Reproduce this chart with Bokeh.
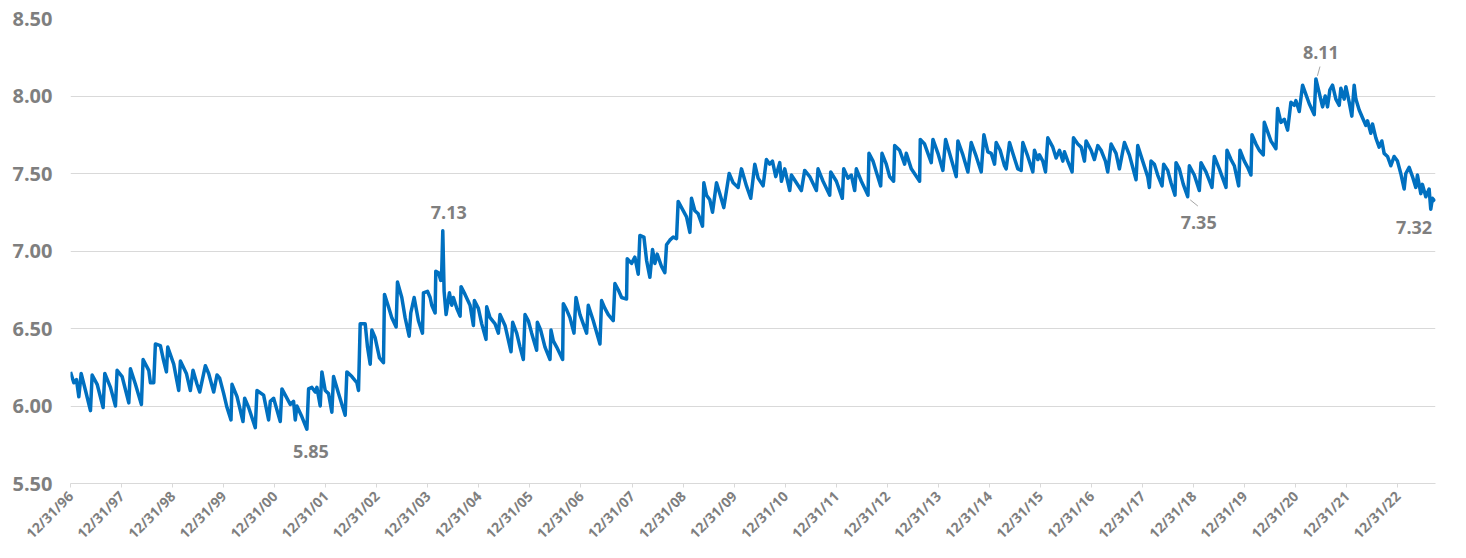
import math
from bokeh.plotting import figure
from bokeh.models import FixedTicker, NumeralTickFormatter, Range1d, Label
from bokeh.embed import file_html
from bokeh.resources import INLINE

# decimal years (1997.0 == 12/31/96)
dates = [
    1997.000, 1997.065, 1997.117, 1997.163, 1997.209, 1997.294, 1997.391, 1997.424, 1997.522, 1997.639,
    1997.672, 1997.783, 1997.881, 1997.913, 1998.011, 1998.142, 1998.174, 1998.272, 1998.389, 1998.422,
    1998.533, 1998.566, 1998.631, 1998.663, 1998.761, 1998.826, 1998.879, 1998.905, 1999.022, 1999.120,
    1999.153, 1999.270, 1999.348, 1999.400, 1999.479, 1999.531, 1999.642, 1999.707, 1999.805, 1999.870,
    1999.922, 2000.001, 2000.066, 2000.144, 2000.164, 2000.262, 2000.379, 2000.412, 2000.490, 2000.620,
    2000.653, 2000.783, 2000.881, 2000.914, 2000.979, 2001.109, 2001.142, 2001.305,
    2001.370, 2001.403, 2001.435, 2001.533, 2001.631, 2001.664, 2001.729, 2001.794, 2001.827, 2001.892,
    2001.925, 2001.990, 2002.055, 2002.120, 2002.153, 2002.251, 2002.381, 2002.414, 2002.512, 2002.610,
    2002.642, 2002.675, 2002.773, 2002.818, 2002.871, 2002.903, 2002.968, 2003.053, 2003.131, 2003.151,
    2003.229, 2003.294, 2003.379, 2003.405, 2003.490, 2003.555, 2003.634, 2003.666, 2003.732, 2003.816,
    2003.895, 2003.914, 2003.993, 2004.045, 2004.077, 2004.143, 2004.156, 2004.208, 2004.254, 2004.273,
    2004.293, 2004.319, 2004.358, 2004.423, 2004.469, 2004.501, 2004.567, 2004.632, 2004.651, 2004.729,
    2004.827, 2004.893, 2004.912, 2004.990, 2005.056, 2005.140, 2005.153, 2005.219, 2005.317, 2005.382,
    2005.414, 2005.512, 2005.630, 2005.662, 2005.741, 2005.806,
    2005.871, 2005.904, 2005.969, 2006.034, 2006.132, 2006.145, 2006.210, 2006.295, 2006.393, 2006.413,
    2006.458, 2006.524, 2006.641, 2006.654, 2006.719, 2006.784, 2006.863, 2006.902, 2006.980, 2007.045,
    2007.111, 2007.143, 2007.241, 2007.372, 2007.404, 2007.469, 2007.535, 2007.632, 2007.665, 2007.730,
    2007.796, 2007.893, 2007.906, 2007.991, 2008.056, 2008.122, 2008.154, 2008.233, 2008.285, 2008.350,
    2008.402, 2008.448, 2008.493, 2008.578, 2008.643, 2008.676, 2008.741, 2008.807, 2008.872, 2008.904,
    2009.002, 2009.068, 2009.133, 2009.165, 2009.231, 2009.296, 2009.381, 2009.407, 2009.459, 2009.524,
    2009.577, 2009.655, 2009.720, 2009.798, 2009.903, 2009.981, 2010.079, 2010.144, 2010.242, 2010.326,
    2010.405,
    2010.470, 2010.568, 2010.633, 2010.698, 2010.751, 2010.816, 2010.894, 2010.927, 2010.992, 2011.090,
    2011.122, 2011.220, 2011.318, 2011.383, 2011.481, 2011.612, 2011.644, 2011.742, 2011.873, 2011.892,
    2012.003, 2012.120, 2012.147, 2012.231, 2012.296, 2012.362, 2012.394, 2012.492, 2012.623, 2012.642,
    2012.721, 2012.786, 2012.871, 2012.897, 2012.981, 2013.047, 2013.125, 2013.145, 2013.242, 2013.340,
    2013.373, 2013.471, 2013.634, 2013.647, 2013.731, 2013.862, 2013.895, 2013.993, 2014.090, 2014.143,
    2014.221, 2014.351, 2014.384, 2014.482, 2014.580, 2014.645, 2014.743, 2014.841, 2014.893,
    2014.971, 2015.036, 2015.102, 2015.134, 2015.212, 2015.297, 2015.330, 2015.395, 2015.460, 2015.558,
    2015.623, 2015.656, 2015.754, 2015.852, 2015.884, 2015.950, 2015.982, 2016.047, 2016.100, 2016.145,
    2016.243, 2016.308, 2016.374, 2016.439, 2016.471, 2016.537, 2016.621, 2016.648, 2016.732, 2016.798,
    2016.863, 2016.895, 2016.993, 2017.058, 2017.124, 2017.189, 2017.274, 2017.319, 2017.385, 2017.482,
    2017.548, 2017.646, 2017.743, 2017.841, 2017.874, 2017.907, 2018.004, 2018.102, 2018.135, 2018.167,
    2018.233, 2018.298, 2018.383, 2018.415, 2018.494, 2018.559, 2018.637, 2018.657, 2018.722, 2018.800,
    2018.885, 2018.918, 2019.015, 2019.113, 2019.146, 2019.244, 2019.361, 2019.407,
    2019.505, 2019.636, 2019.655, 2019.734, 2019.799, 2019.884, 2019.910, 2019.995, 2020.060, 2020.125,
    2020.145, 2020.223, 2020.288, 2020.366, 2020.386, 2020.451, 2020.516, 2020.614, 2020.647, 2020.712,
    2020.777, 2020.843, 2020.908, 2020.973, 2021.006, 2021.071, 2021.136, 2021.201, 2021.267, 2021.364,
    2021.397, 2021.462, 2021.528, 2021.580, 2021.625, 2021.671, 2021.723, 2021.788, 2021.854, 2021.886,
    2021.951, 2021.984, 2022.049, 2022.101, 2022.147, 2022.180, 2022.245, 2022.310, 2022.376, 2022.408,
    2022.473, 2022.506, 2022.571, 2022.636, 2022.689, 2022.734, 2022.800, 2022.865, 2022.930, 2022.995,
    2023.060, 2023.126, 2023.158, 2023.224, 2023.289, 2023.354, 2023.386, 2023.452, 2023.484, 2023.550,
    2023.615, 2023.647, 2023.680, 2023.732,
]

values = [
    6.22, 6.15, 6.17, 6.06, 6.21, 6.10, 5.97, 6.20, 6.14, 5.99,
    6.21, 6.12, 6.00, 6.23, 6.19, 6.02, 6.24, 6.14, 6.01, 6.30,
    6.23, 6.15, 6.15, 6.40, 6.39, 6.29, 6.22, 6.38, 6.27, 6.10,
    6.29, 6.21, 6.10, 6.23, 6.14, 6.09, 6.26, 6.21, 6.09, 6.20,
    6.18, 6.08, 5.99, 5.91, 6.14, 6.06, 5.90, 6.05, 5.99, 5.86,
    6.10, 6.07, 5.91, 6.03, 6.05, 5.90, 6.11, 6.01,
    6.03, 5.91, 6.00, 5.93, 5.85, 6.11, 6.12, 6.09, 6.12, 6.00,
    6.22, 6.10, 6.08, 5.96, 6.19, 6.08, 5.94, 6.22, 6.19, 6.15,
    6.10, 6.53, 6.53, 6.38, 6.27, 6.49, 6.44, 6.31, 6.28, 6.72,
    6.64, 6.57, 6.51, 6.80, 6.70, 6.57, 6.45, 6.60, 6.70, 6.55,
    6.47, 6.73, 6.74, 6.70, 6.65, 6.60, 6.87, 6.86, 6.81, 6.88,
    7.13, 6.74, 6.59, 6.73, 6.65, 6.70, 6.63, 6.58, 6.77, 6.72,
    6.65, 6.52, 6.68, 6.63, 6.53, 6.43, 6.64, 6.57, 6.53, 6.47,
    6.59, 6.52, 6.35, 6.54, 6.47, 6.38,
    6.30, 6.59, 6.55, 6.47, 6.36, 6.54, 6.49, 6.38, 6.30, 6.49,
    6.42, 6.38, 6.30, 6.66, 6.62, 6.57, 6.47, 6.70, 6.59, 6.53,
    6.47, 6.65, 6.55, 6.40, 6.68, 6.63, 6.59, 6.55, 6.79, 6.75,
    6.70, 6.69, 6.95, 6.92, 6.96, 6.85, 7.10, 7.09, 6.94, 6.83,
    7.01, 6.92, 6.98, 6.90, 6.86, 7.04, 7.07, 7.09, 7.08, 7.32,
    7.26, 7.22, 7.12, 7.34, 7.26, 7.24, 7.16, 7.44, 7.36, 7.33,
    7.25, 7.44, 7.37, 7.28, 7.50, 7.44, 7.41, 7.53, 7.42, 7.34,
    7.56,
    7.47, 7.42, 7.59, 7.56, 7.58, 7.48, 7.57, 7.45, 7.53, 7.39,
    7.49, 7.44, 7.39, 7.52, 7.48, 7.39, 7.53, 7.45, 7.36, 7.51,
    7.45, 7.34, 7.53, 7.47, 7.49, 7.39, 7.53, 7.45, 7.36, 7.63,
    7.58, 7.51, 7.42, 7.63, 7.56, 7.48, 7.45, 7.68, 7.65, 7.56,
    7.63, 7.53, 7.45, 7.72, 7.69, 7.57, 7.72, 7.63, 7.52, 7.72,
    7.63, 7.48, 7.71, 7.62, 7.51, 7.70, 7.61, 7.51, 7.75,
    7.64, 7.63, 7.56, 7.70, 7.65, 7.55, 7.53, 7.70, 7.63, 7.53,
    7.52, 7.70, 7.61, 7.51, 7.65, 7.59, 7.62, 7.58, 7.51, 7.73,
    7.67, 7.60, 7.65, 7.58, 7.64, 7.58, 7.51, 7.73, 7.69, 7.67,
    7.58, 7.71, 7.65, 7.59, 7.68, 7.65, 7.58, 7.51, 7.69, 7.63,
    7.53, 7.70, 7.62, 7.50, 7.46, 7.68, 7.58, 7.48, 7.41, 7.58,
    7.56, 7.49, 7.42, 7.56, 7.52, 7.44, 7.36, 7.57, 7.53, 7.43,
    7.35, 7.55, 7.49, 7.39, 7.57, 7.51, 7.41, 7.61,
    7.53, 7.41, 7.65, 7.59, 7.55, 7.42, 7.65, 7.58, 7.54, 7.49,
    7.75, 7.69, 7.65, 7.62, 7.83, 7.77, 7.71, 7.66, 7.92, 7.83,
    7.85, 7.78, 7.96, 7.94, 7.97, 7.90, 8.07, 8.01, 7.95, 7.88,
    8.11, 8.02, 7.93, 8.00, 7.93, 8.04, 8.07, 7.98, 7.94, 8.05,
    7.98, 8.06, 7.96, 7.87, 8.07, 7.98, 7.91, 7.86, 7.81, 7.84,
    7.76, 7.82, 7.73, 7.67, 7.71, 7.63, 7.61, 7.55, 7.61, 7.58,
    7.50, 7.40, 7.50, 7.54, 7.48, 7.41, 7.49, 7.37, 7.43, 7.35,
    7.40, 7.27, 7.34, 7.32,
]

y_ticks = [5.5, 6.0, 6.5, 7.0, 7.5, 8.0, 8.5]
x_tick_years = [1997, 1998, 1999, 2000, 2001, 2002, 2003, 2004, 2005, 2006, 2007, 2008, 2009,
                2010, 2011, 2012, 2013, 2014, 2015, 2016, 2017, 2018, 2019, 2020, 2021, 2022, 2023]
x_tick_labels = ["12/31/96", "12/31/97", "12/31/98", "12/31/99", "12/31/00", "12/31/01", "12/31/02",
                 "12/31/03", "12/31/04", "12/31/05", "12/31/06", "12/31/07", "12/31/08", "12/31/09",
                 "12/31/10", "12/31/11", "12/31/12", "12/31/13", "12/31/14", "12/31/15", "12/31/16",
                 "12/31/17", "12/31/18", "12/31/19", "12/31/20", "12/31/21", "12/31/22"]

# annotated points
ann_dates = [2001.631, 2004.293, 2018.885, 2021.397, 2023.732]
ann_values = [5.85, 7.13, 7.35, 8.11, 7.32]
ann_texts = ["5.85", "7.13", "7.35", "8.11", "7.32"]
# label offsets in screen pixels (layout)
ann_offsets = [(4, -22), (6, 18), (11, -26), (5, 26), (-21, -26)]

GRAY = "#7F7F7F"
LEADER = "#A6A6A6"
GRID = "#D9D9D9"
BLUE = "#0070C0"
FONT = "Open Sans"

p = figure(width=1460, height=556,
           x_range=Range1d(1997.0, 2023.74), y_range=Range1d(5.5, 8.5),
           output_backend="svg", toolbar_location=None,
           min_border_left=70, min_border_right=25, min_border_top=18, min_border_bottom=73)
p.outline_line_color = None
p.background_fill_color = "white"
p.border_fill_color = "white"

p.xgrid.visible = False
p.ygrid.grid_line_color = GRID
p.ygrid.grid_line_width = 1

p.yaxis.ticker = FixedTicker(ticks=y_ticks)
p.yaxis.formatter = NumeralTickFormatter(format="0.00")
p.yaxis.axis_line_color = None
p.yaxis.major_tick_line_color = None
p.yaxis.minor_tick_line_color = None
p.yaxis.major_label_standoff = 12
p.yaxis.major_label_text_font = FONT
p.yaxis.major_label_text_font_style = "bold"
p.yaxis.major_label_text_font_size = "20px"
p.yaxis.major_label_text_color = GRAY

p.xaxis.ticker = FixedTicker(ticks=x_tick_years)
p.xaxis.major_label_overrides = {y: lab for y, lab in zip(x_tick_years, x_tick_labels)}
p.xaxis.axis_line_color = GRID
p.xaxis.major_tick_line_color = GRID
p.xaxis.major_tick_out = 4
p.xaxis.major_tick_in = 0
p.xaxis.minor_tick_line_color = None
p.xaxis.major_label_orientation = math.pi / 4
p.xaxis.major_label_standoff = 6
p.xaxis.major_label_text_font = FONT
p.xaxis.major_label_text_font_style = "bold"
p.xaxis.major_label_text_font_size = "14px"
p.xaxis.major_label_text_color = GRAY

p.line(dates, values, line_color=BLUE, line_width=3.5, line_join="round")

# small leader lines for two of the callouts (8.11 and 7.35)
i811 = ann_texts.index("8.11")
i735 = ann_texts.index("7.35")
p.segment(x0=[ann_dates[i811] + 0.03, ann_dates[i735] + 0.05],
          y0=[ann_values[i811] + 0.02, ann_values[i735] - 0.02],
          x1=[ann_dates[i811] + 0.08, ann_dates[i735] + 0.20],
          y1=[ann_values[i811] + 0.08, ann_values[i735] - 0.06],
          line_color=LEADER, line_width=1)

for d, v, t, (dx, dy) in zip(ann_dates, ann_values, ann_texts, ann_offsets):
    p.add_layout(Label(x=d, y=v, text=t, x_offset=dx, y_offset=dy,
                       text_align="center", text_baseline="middle",
                       text_font=FONT, text_font_style="bold",
                       text_font_size="18px", text_color=GRAY))

open("out.html", "w").write(file_html(p, INLINE))
